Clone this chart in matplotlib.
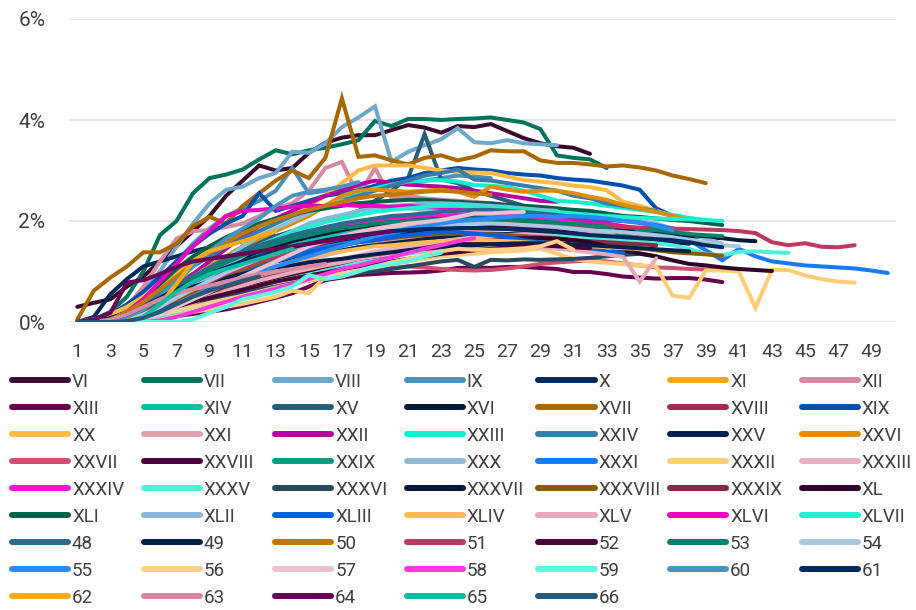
import matplotlib
matplotlib.use("Agg")
import matplotlib.pyplot as plt
from matplotlib.lines import Line2D

plt.rcParams['font.family'] = ['Roboto', 'DejaVu Sans']

# vintage curves, value in % for each period 1..n
names = ["VI", "VII", "VIII", "IX", "X", "XI", "XII", "XIII", "XIV", "XV", "XVI", "XVII",
         "XVIII", "XIX", "XX", "XXI", "XXII", "XXIII", "XXIV", "XXV", "XXVI", "XXVII",
         "XXVIII", "XXIX", "XXX", "XXXI", "XXXII", "XXXIII", "XXXIV", "XXXV", "XXXVI",
         "XXXVII", "XXXVIII", "XXXIX", "XL", "XLI", "XLII", "XLIII", "XLIV", "XLV", "XLVI",
         "XLVII", "48", "49", "50", "51", "52", "53", "54", "55", "56", "57", "58", "59",
         "60", "61", "62", "63", "64", "65", "66"]

colors = ["#3b0a2f", "#00735c", "#6fa8cc", "#4a90bb", "#002a5c", "#ffa812", "#d98aa3",
          "#6a0050", "#00c4a3", "#265e7a", "#001a3a", "#a86800", "#a82a50", "#0050b0",
          "#ffbb44", "#e0a0b0", "#b800a0", "#10f0d0", "#3a7ca8", "#002050", "#e08c00",
          "#d05070", "#4a0040", "#0a9a80", "#90bcd8", "#1a7aff", "#ffcc77", "#e8b0c0",
          "#ff10d8", "#50f0d8", "#264a60", "#00183a", "#8a5a00", "#8a2848", "#300028",
          "#00604a", "#88b8d8", "#0060e0", "#ffbb55", "#e8aab8", "#f000c0", "#20f0d0",
          "#2e6a90", "#00204a", "#c07800", "#c03860", "#4a0038", "#00856a", "#a8c8e0",
          "#2a8cff", "#ffd088", "#ecc0cc", "#ff38e0", "#60f8e0", "#4a94c0", "#002a60",
          "#ffaa10", "#d888a0", "#6a0058", "#00c0a0", "#265a78"]

s_VI = [0.3, 0.38, 0.45, 0.7, 0.9, 1.2, 1.5, 1.8, 2.1, 2.5, 2.8, 3.1, 3.0, 3.05, 3.35, 3.55, 3.65, 3.7, 3.7, 3.8,
        3.9, 3.85, 3.75, 3.88, 3.86, 3.92, 3.78, 3.64, 3.54, 3.48, 3.45, 3.33]
s_VII = [0, 0.05, 0.2, 0.5, 1.0, 1.72, 2.0, 2.55, 2.85, 2.92, 3.02, 3.22, 3.4, 3.32, 3.4, 3.45, 3.52, 3.6, 3.98, 3.88,
         4.02, 4.02, 4.0, 4.02, 4.03, 4.05, 4.0, 3.95, 3.82, 3.3, 3.25, 3.22, 3.05]
s_VIII = [0, 0, 0.1, 0.3, 0.6, 1.0, 1.5, 1.95, 2.35, 2.62, 2.68, 2.85, 2.95, 3.37, 3.35, 3.54, 3.86, 4.05, 4.27, 3.17,
          3.37, 3.5, 3.62, 3.84, 3.56, 3.54, 3.6, 3.54, 3.52, 3.5]
s_IX = [0, 0, 0.05, 0.2, 0.45, 0.8, 1.2, 1.55, 1.85, 2.1, 2.25, 2.4, 2.6, 3.05, 2.55, 2.6, 2.62, 2.65, 2.68, 2.72,
        2.75, 2.8, 2.85, 2.9, 2.88, 2.85]
s_X = [0, 0.1, 0.55, 0.85, 1.1, 1.2, 1.3, 1.4, 1.48, 1.55, 1.6, 1.65, 1.7, 1.75, 1.8, 1.85, 1.9, 1.92, 1.95, 1.98,
       2.0, 2.0, 2.02, 2.0, 1.98, 1.96, 1.95, 1.92, 1.9, 1.88, 1.85, 1.82, 1.8, 1.78]
s_XI = [0, 0, 0, 0.05, 0.15, 0.3, 0.5, 0.7, 0.9, 1.05, 1.2, 1.32, 1.42, 1.5, 1.58, 1.65, 1.72, 1.78, 1.85, 1.9,
        1.95, 2.0, 2.05, 2.08, 2.1, 2.12, 2.15, 2.12, 2.1, 2.08]
s_XII = [0, 0.05, 0.15, 0.3, 0.7, 1.2, 1.65, 1.8, 1.82, 1.88, 1.95, 2.1, 2.25, 2.35, 2.6, 3.05, 3.17, 2.5, 3.05, 2.45,
         2.5, 2.45, 2.42, 2.4, 2.38, 2.35, 2.3]
s_XIII = [0, 0, 0, 0.02, 0.05, 0.08, 0.12, 0.16, 0.2, 0.25, 0.32, 0.4, 0.48, 0.57, 0.7, 0.83, 0.88, 0.93, 0.95, 0.97,
          0.98, 0.99, 1.02, 1.07, 1.08, 1.07, 1.09, 1.09, 1.07, 1.05, 0.99, 0.99, 0.95, 0.9, 0.88, 0.86, 0.87, 0.87,
          0.84, 0.79]
s_XIV = [0, 0, 0, 0.05, 0.25, 0.55, 0.8, 0.95, 1.05, 1.15, 1.25, 1.35, 1.45, 1.52, 1.6, 1.68, 1.75, 1.8, 1.85, 1.9,
         1.92, 1.95, 1.98, 2.0, 2.02, 2.02, 2.0, 1.98, 1.96, 1.95, 1.92, 1.9, 1.88, 1.85, 1.82, 1.8, 1.78, 1.75]
s_XV = [0, 0, 0.05, 0.15, 0.3, 0.5, 0.7, 0.9, 1.1, 1.3, 1.45, 1.6, 1.7, 1.8, 1.9, 2.0, 2.1, 2.2, 2.4, 2.6,
        2.85, 3.72, 2.82, 2.75, 2.6, 2.5, 2.4, 2.3, 2.2, 2.1, 2.0, 1.9, 1.85]
s_XVI = [0, 0, 0.05, 0.15, 0.3, 0.45, 0.6, 0.75, 0.9, 1.02, 1.12, 1.22, 1.3, 1.38, 1.45, 1.52, 1.58, 1.62, 1.68, 1.72,
         1.76, 1.8, 1.82, 1.85, 1.86, 1.88, 1.88, 1.88, 1.87, 1.86, 1.85, 1.84, 1.82, 1.8, 1.78, 1.75, 1.72, 1.7,
         1.68, 1.66, 1.62, 1.6]
s_XVII = [0.05, 0.62, 0.88, 1.1, 1.38, 1.38, 1.55, 1.9, 2.08, 1.95, 2.3, 2.55, 2.8, 3.0, 2.85, 3.25, 4.43, 3.27, 3.3,
          3.2, 3.12, 3.25, 3.3, 3.2, 3.27, 3.4, 3.38, 3.38, 3.2, 3.15, 3.15, 3.12, 3.08, 3.1, 3.06, 3.0, 2.9, 2.83,
          2.75]
s_XVIII = [0, 0, 0.02, 0.06, 0.14, 0.24, 0.36, 0.48, 0.6, 0.7, 0.8, 0.88, 0.96, 1.02, 1.1, 1.16, 1.22, 1.3, 1.35,
           1.42, 1.48, 1.52, 1.58, 1.62, 1.66, 1.7, 1.74, 1.76, 1.8, 1.82, 1.82, 1.8, 1.78, 1.76, 1.74, 1.72, 1.7, 1.68]
s_XIX = [0, 0.05, 0.15, 0.35, 0.6, 0.9, 1.2, 1.5, 1.75, 1.95, 2.1, 2.55, 2.2, 2.3, 2.4, 2.5, 2.55, 2.6, 2.7, 2.8,
         2.85, 2.95, 3.0, 3.05, 3.02, 3.0, 2.95, 2.92, 2.9, 2.85, 2.82, 2.8, 2.75, 2.7, 2.62, 2.25, 2.1, 2.0]
s_XX = [0, 0.05, 0.15, 0.3, 0.5, 0.75, 1.0, 1.2, 1.4, 1.55, 1.7, 1.8, 1.95, 2.1, 2.3, 2.5, 2.75, 3.0, 3.1, 3.1,
        3.1, 3.05, 3.0, 2.97, 2.96, 2.95, 2.88, 2.81, 2.78, 2.75, 2.7, 2.67, 2.61, 2.38, 2.3, 2.2, 2.1, 2.05]
s_XXI = [0, 0, 0, 0.02, 0.1, 0.25, 0.4, 0.55, 0.72, 0.85, 1.02, 0.93, 1.1, 1.17, 1.25, 1.32, 1.4, 1.48, 1.55, 1.6,
         1.65, 1.7, 1.74, 1.78, 1.8, 1.82, 1.84, 1.85, 1.85, 1.84, 1.82, 1.8, 1.78, 1.76]
s_XXII = [0, 0, 0.02, 0.1, 0.25, 0.45, 0.7, 0.95, 1.2, 1.45, 1.7, 1.9, 2.05, 2.2, 2.35, 2.5, 2.6, 2.72, 2.8, 2.75,
          2.72, 2.7, 2.68, 2.65, 2.6, 2.55, 2.5, 2.45, 2.4, 2.38]
s_XXIII = [0, 0, 0.05, 0.15, 0.3, 0.5, 0.7, 0.9, 1.1, 1.3, 1.5, 1.7, 1.85, 2.0, 2.15, 2.3, 2.45, 2.55, 2.65, 2.72,
           2.78, 2.8, 2.81, 2.78, 2.71, 2.7, 2.67, 2.6, 2.5, 2.4, 2.38, 2.35, 2.3, 2.26, 2.22, 2.18, 2.12, 2.06, 2.02]
s_XXIV = [0, 0, 0.05, 0.15, 0.35, 0.6, 0.85, 1.1, 1.3, 1.5, 1.65, 1.8, 1.95, 2.1, 2.2, 2.3, 2.4, 2.5, 2.6, 2.7,
          2.8, 2.9, 2.95, 3.02, 2.82, 2.8, 2.75, 2.7, 2.65, 2.6, 2.5, 2.45, 2.35, 2.3, 2.25, 2.2]
s_XXV = [0, 0, 0.05, 0.15, 0.3, 0.45, 0.6, 0.72, 0.85, 0.95, 1.05, 1.12, 1.2, 1.26, 1.32, 1.38, 1.42, 1.48, 1.52,
         1.56, 1.6, 1.64, 1.68, 1.7, 1.72, 1.74, 1.74, 1.75, 1.74, 1.73, 1.72, 1.7, 1.68, 1.66, 1.64, 1.6, 1.58, 1.55]
s_XXVI = [0, 0, 0.05, 0.15, 0.3, 0.5, 0.7, 0.9, 1.1, 1.3, 1.5, 1.65, 1.8, 1.95, 2.1, 2.3, 2.5, 2.6, 2.62, 2.6,
          2.58, 2.6, 2.62, 2.58, 2.48, 2.68, 2.62, 2.58, 2.6, 2.6, 2.55, 2.48, 2.42, 2.32, 2.25, 2.18, 2.1, 2.02, 1.98]
s_XXVII = [0, 0, 0, 0.02, 0.08, 0.15, 0.22, 0.3, 0.38, 0.46, 0.54, 0.62, 0.7, 0.77, 0.84, 0.9, 0.96, 1.0, 1.04, 1.07,
           1.1, 1.08, 1.05, 1.03, 1.02, 1.03, 1.06, 1.1, 1.15, 1.18, 1.2, 1.22, 1.2, 1.16, 1.12, 1.08, 1.07, 1.05,
           1.04, 1.03]
s_XXVIII = [0, 0, 0.03, 0.12, 0.25, 0.4, 0.55, 0.7, 0.85, 1.0, 1.12, 1.22, 1.32, 1.42, 1.5, 1.58, 1.65, 1.72, 1.78,
            1.84, 1.88, 1.92, 1.94, 1.96, 1.96, 1.95, 1.92, 1.88, 1.85, 1.8, 1.76, 1.72, 1.68, 1.62, 1.58, 1.56]
s_XXIX = [0, 0, 0, 0.05, 0.2, 0.45, 0.7, 0.9, 1.05, 1.2, 1.32, 1.45, 1.55, 1.65, 1.75, 1.85, 1.92, 1.98, 2.02, 2.05,
          2.08, 2.1, 2.1, 2.12, 2.1, 2.08, 2.06, 2.05, 2.02, 2.0, 1.98, 1.95, 1.9, 1.86, 1.82, 1.8]
s_XXX = [0, 0, 0, 0.05, 0.15, 0.3, 0.5, 0.75, 1.0, 1.25, 1.5, 1.7, 1.85, 2.0, 2.15, 2.3, 2.4, 2.35, 2.3, 2.28,
         2.25, 2.22, 2.25, 2.28, 2.35, 2.3, 2.25, 2.2, 2.22, 2.25, 2.2, 2.15, 2.1, 2.05, 2.0, 1.95, 1.85, 1.75, 1.65,
         1.55]
s_XXXI = [0, 0, 0, 0.05, 0.15, 0.3, 0.45, 0.6, 0.75, 0.9, 1.05, 1.2, 1.3, 1.37, 1.43, 1.49, 1.55, 1.6, 1.68, 1.75,
          1.82, 1.88, 1.95, 2.05, 2.1, 2.1, 2.12, 2.16, 2.22, 2.2, 2.2, 2.15, 2.05, 2.0, 1.96, 1.92, 1.85, 1.62, 1.42,
          1.22, 1.45, 1.3, 1.2, 1.16, 1.12, 1.1, 1.08, 1.06, 1.02, 0.97]
s_XXXII = [0, 0, 0, 0.03, 0.06, 0.1, 0.15, 0.2, 0.25, 0.3, 0.36, 0.43, 0.5, 0.62, 0.57, 0.9, 0.98, 1.02, 1.08, 1.15,
           1.2, 1.25, 1.3, 1.33, 1.35, 1.38, 1.4, 1.42, 1.45, 1.35, 1.25, 1.2, 1.17, 1.15, 1.12, 1.1, 0.52, 0.48,
           1.02, 1.02, 1.0, 0.28, 1.03, 1.03, 0.92, 0.85, 0.8, 0.78]
s_XXXIII = [0, 0, 0, 0, 0.05, 0.15, 0.28, 0.42, 0.55, 0.65, 0.75, 0.85, 0.95, 1.02, 1.1, 1.18, 1.25, 1.32, 1.4, 1.45,
            1.5, 1.55, 1.6, 1.64, 1.68, 1.7, 1.72, 1.74, 1.75, 1.75, 1.74, 1.72, 1.7]
s_XXXIV = [0, 0, 0, 0.05, 0.2, 0.4, 0.6, 0.8, 1.0, 1.15, 1.3, 1.45, 1.55, 1.65, 1.75, 1.82, 1.9, 1.95, 2.0, 2.02,
           2.05, 2.08, 2.1, 2.12, 2.15, 2.15, 2.12, 2.1, 2.08, 2.05, 2.02, 2.0]
s_XXXV = [0, 0, 0, 0, 0.05, 0.12, 0.2, 0.3, 0.4, 0.5, 0.6, 0.7, 0.8, 0.88, 0.95, 1.02, 1.1, 1.18, 1.25, 1.3,
          1.35, 1.4, 1.45, 1.5, 1.55, 1.58, 1.62, 1.65, 1.68, 1.7, 1.7, 1.68, 1.65, 1.62, 1.6, 1.56, 1.52, 1.45, 1.35,
          1.32, 1.39, 1.4, 1.38, 1.37]
s_XXXVI = [0, 0, 0, 0.05, 0.1, 0.18, 0.26, 0.34, 0.42, 0.5, 0.57, 0.64, 0.7, 0.76, 0.82, 0.88, 0.92, 0.97, 1.0, 1.05,
           1.1, 1.15, 1.2, 1.23, 1.09, 1.23, 1.22, 1.24, 1.23, 1.24, 1.25, 1.27, 1.3, 1.33, 1.35, 1.3]
s_XXXVII = [0, 0, 0.05, 0.15, 0.3, 0.5, 0.7, 0.88, 1.02, 1.15, 1.28, 1.4, 1.5, 1.6, 1.68, 1.75, 1.82, 1.88, 1.92,
            1.96, 2.0, 2.02, 2.04, 2.05, 2.05, 2.04, 2.02, 2.0, 1.98, 1.95, 1.92, 1.9, 1.88, 1.85, 1.82, 1.78, 1.75,
            1.72, 1.7, 1.68]
s_XXXVIII = [0, 0, 0, 0.05, 0.15, 0.3, 0.45, 0.6, 0.75, 0.9, 1.02, 1.12, 1.22, 1.3, 1.38, 1.45, 1.52, 1.58, 1.62,
             1.66, 1.7, 1.72, 1.74, 1.75, 1.75, 1.74, 1.72, 1.7, 1.68, 1.66, 1.62, 1.58, 1.55, 1.5, 1.46, 1.42, 1.38,
             1.36, 1.34, 1.31]
s_XXXIX = [0, 0, 0.02, 0.08, 0.16, 0.26, 0.36, 0.46, 0.56, 0.66, 0.75, 0.84, 0.92, 1.0, 1.08, 1.15, 1.2, 1.26, 1.3,
           1.36, 1.4, 1.44, 1.48, 1.52, 1.55, 1.6, 1.62, 1.64, 1.65, 1.64, 1.62, 1.6, 1.58, 1.56, 1.54, 1.52]
s_XL = [0, 0, 0, 0.05, 0.12, 0.22, 0.32, 0.42, 0.52, 0.62, 0.72, 0.8, 0.88, 0.95, 1.02, 1.1, 1.17, 1.25, 1.3, 1.35,
        1.4, 1.45, 1.5, 1.55, 1.6, 1.62, 1.65, 1.66, 1.66, 1.65, 1.62, 1.58, 1.5, 1.42, 1.36, 1.3, 1.22, 1.15, 1.12,
        1.08, 1.05, 1.03, 1.01]
s_XLI = [0, 0, 0.05, 0.2, 0.45, 0.75, 1.05, 1.3, 1.5, 1.68, 1.82, 1.95, 2.05, 2.12, 2.2, 2.25, 2.3, 2.35, 2.38, 2.4,
         2.42, 2.42, 2.4, 2.38, 2.36, 2.35, 2.32, 2.3, 2.28, 2.25, 2.22, 2.2, 2.15, 2.1, 2.08, 2.05, 2.02, 2.0, 1.96,
         1.92]
s_XLII = [0, 0, 0, 0.05, 0.15, 0.3, 0.5, 0.7, 0.9, 1.1, 1.3, 1.5, 1.65, 1.8, 1.95, 2.05, 2.12, 2.2, 2.25, 2.3,
          2.32, 2.35, 2.35, 2.34, 2.32, 2.3, 2.28, 2.25, 2.22, 2.2]
s_XLIII = [0, 0, 0, 0.05, 0.12, 0.22, 0.35, 0.5, 0.65, 0.8, 0.95, 1.08, 1.2, 1.3, 1.38, 1.45, 1.52, 1.58, 1.62, 1.68,
           1.72, 1.76, 1.78, 1.78, 1.75, 1.72, 1.68, 1.62, 1.58, 1.55, 1.5, 1.45, 1.4, 1.37]
s_XLIV = [0, 0, 0, 0.02, 0.08, 0.18, 0.3, 0.45, 0.6, 0.75, 0.88, 1.0, 1.1, 1.2, 1.28, 1.35, 1.4, 1.45, 1.5, 1.52,
          1.55, 1.58, 1.6, 1.62, 1.62, 1.62, 1.6, 1.58, 1.56, 1.54, 1.52, 1.5, 1.48, 1.46, 1.45, 1.44]
s_XLV = [0, 0, 0, 0.02, 0.08, 0.16, 0.26, 0.38, 0.5, 0.62, 0.72, 0.82, 0.9, 0.98, 1.05, 1.12, 1.18, 1.25, 1.3, 1.35,
         1.4, 1.42, 1.45, 1.48, 1.5, 1.52, 1.52, 1.5, 1.48, 1.45, 1.42, 1.38, 1.34, 1.29, 0.8, 1.26]
s_XLVI = [0, 0, 0.05, 0.2, 0.45, 0.8, 1.15, 1.5, 1.8, 2.1, 2.2, 2.22, 2.25, 2.28, 2.3, 2.3, 2.32, 2.3, 2.3, 2.28,
          2.3, 2.28, 2.26, 2.24, 2.22, 2.2, 2.18, 2.15, 2.12, 2.1, 2.05, 2.0, 1.95, 1.9, 1.85]
s_XLVII = [0, 0, 0.02, 0.1, 0.25, 0.45, 0.65, 0.85, 1.05, 1.22, 1.38, 1.52, 1.65, 1.78, 1.88, 1.98, 2.05, 2.12, 2.18,
           2.22, 2.25, 2.28, 2.3, 2.3, 2.28, 2.26, 2.25, 2.22, 2.2, 2.18, 2.15, 2.12, 2.1, 2.08, 2.06, 2.05, 2.04,
           2.03, 2.02, 2.0]
s_48 = [0, 0, 0.05, 0.15, 0.3, 0.5, 0.7, 0.9, 1.08, 1.25, 1.4, 1.52, 1.62, 1.72, 1.8, 1.88, 1.95, 2.0, 2.05, 2.1,
        2.12, 2.15, 2.18, 2.2, 2.22, 2.22, 2.2, 2.18, 2.15, 2.12, 2.08, 2.05, 2.02, 2.0]
s_49 = [0, 0.02, 0.08, 0.18, 0.3, 0.45, 0.58, 0.7, 0.8, 0.88, 0.95, 1.02, 1.08, 1.12, 1.18, 1.22, 1.25, 1.3, 1.34,
        1.38, 1.42, 1.45, 1.48, 1.5, 1.52, 1.54, 1.55, 1.56, 1.56, 1.55, 1.54, 1.52, 1.5, 1.48, 1.46, 1.44, 1.42, 1.4]
s_50 = [0, 0, 0.05, 0.2, 0.4, 0.65, 0.9, 1.15, 1.38, 1.58, 1.75, 1.9, 2.02, 2.12, 2.22, 2.3, 2.38, 2.45, 2.5, 2.52,
        2.55, 2.58, 2.6, 2.58, 2.55, 2.52]
s_51 = [0, 0, 0.02, 0.1, 0.2, 0.35, 0.5, 0.65, 0.8, 0.95, 1.08, 1.2, 1.3, 1.4, 1.5, 1.58, 1.65, 1.72, 1.78, 1.85,
        1.9, 1.95, 1.98, 2.0, 2.02, 2.0, 1.98, 1.95, 1.95, 1.93, 1.92, 1.9, 1.9, 1.88, 1.87, 1.86, 1.85, 1.84, 1.83,
        1.82, 1.8, 1.76, 1.58, 1.52, 1.56, 1.49, 1.48, 1.52]
s_52 = [0, 0, 0.02, 0.06, 0.12, 0.2, 0.3, 0.4, 0.48, 0.56, 0.64, 0.72, 0.8, 0.86, 0.92, 0.98, 1.05, 1.1, 1.15, 1.2,
        1.25, 1.3, 1.35, 1.38, 1.42, 1.45, 1.48, 1.5, 1.52, 1.5, 1.48, 1.46]
s_53 = [0, 0, 0.02, 0.1, 0.25, 0.45, 0.65, 0.85, 1.02, 1.18, 1.32, 1.45, 1.55, 1.65, 1.72, 1.8, 1.86, 1.9, 1.95, 1.98,
        2.0, 2.02, 2.04, 2.05, 2.05, 2.04, 2.02, 2.0, 1.98, 1.96, 1.94, 1.92, 1.88, 1.7, 1.8, 1.82, 1.78, 1.74, 1.72,
        1.7]
s_54 = [0, 0, 0, 0.05, 0.15, 0.3, 0.48, 0.65, 0.82, 0.98, 1.12, 1.25, 1.36, 1.46, 1.55, 1.62, 1.68, 1.74, 1.8, 1.85,
        1.88, 1.9, 1.92, 1.94, 1.95, 1.95, 1.94, 1.92, 1.9, 1.88, 1.85, 1.82, 1.8, 1.78, 1.75, 1.72, 1.68, 1.62, 1.58,
        1.52, 1.5]
s_55 = [0, 0, 0, 0.02, 0.08, 0.18, 0.3, 0.45, 0.6, 0.75, 0.9, 1.0, 1.1, 1.2, 1.3, 1.4, 1.5, 1.6, 1.7, 1.78,
        1.85, 1.9, 1.95, 2.0, 2.02, 2.05, 2.08, 2.1, 2.1, 2.08, 2.1, 2.08, 2.05, 2.0, 1.98, 1.9, 1.82]
s_56 = [0, 0, 0, 0.03, 0.08, 0.15, 0.22, 0.3, 0.38, 0.45, 0.52, 0.6, 0.68, 0.75, 0.82, 0.88, 0.95, 1.02, 1.1, 1.18,
        1.25, 1.32, 1.4, 1.45, 1.43, 1.43, 1.44, 1.46, 1.5, 1.6, 1.43]
s_57 = [0, 0, 0, 0, 0.05, 0.15, 0.3, 0.45, 0.6, 0.75, 0.9, 1.05, 1.2, 1.35, 1.5, 1.6, 1.7, 1.78, 1.85, 1.9,
        1.95, 1.98, 2.02, 2.08, 2.15, 2.15, 2.17, 2.18]
s_58 = [0, 0, 0, 0, 0, 0.03, 0.1, 0.2, 0.3, 0.4, 0.5, 0.58, 0.66, 0.75, 0.85, 0.95, 1.05, 1.12, 1.2, 1.28,
        1.37, 1.45, 1.52, 1.6, 1.66]
s_59 = [0, 0, 0, 0, 0, 0, 0, 0.05, 0.18, 0.3, 0.45, 0.52, 0.6, 0.7, 0.93, 0.85, 0.9, 1.0, 1.1, 1.15,
        1.2, 1.3, 1.37]
s_60 = [0, 0, 0, 0.1, 0.25, 0.5, 0.8, 1.1, 1.4, 1.65, 1.85, 2.05, 2.3, 2.5, 2.58, 2.62, 2.68, 2.77]
s_61 = [0, 0, 0.05, 0.15, 0.3, 0.48, 0.65, 0.8, 0.95, 1.08, 1.2, 1.3, 1.4, 1.48, 1.55, 1.62, 1.68, 1.72, 1.76, 1.8,
        1.82, 1.84, 1.85, 1.86, 1.86, 1.85, 1.84, 1.82, 1.8, 1.78, 1.75, 1.72, 1.7, 1.68, 1.66, 1.64, 1.62, 1.58,
        1.52, 1.48]
s_62 = [0, 0, 0, 0.02, 0.1, 0.35, 0.75, 1.2, 1.4, 1.5, 1.6, 1.7, 1.8]
s_63 = [0, 0, 0.05, 0.15, 0.3, 0.45, 0.58, 0.65, 0.72, 0.8, 0.88, 0.95, 1.0, 1.05, 1.1, 1.15]
s_64 = [0, 0.05, 0.18, 0.78, 0.83, 0.95, 1.09, 1.2, 1.25, 1.3, 1.35, 1.4, 1.45, 1.5, 1.55, 1.6, 1.65, 1.7, 1.75, 1.8]
s_65 = [0, 0, 0, 0, 0.1, 0.35, 0.6, 0.8, 0.95, 1.05, 1.15, 1.25, 1.35, 1.45]
s_66 = [0, 0, 0, 0.02, 0.08, 0.2, 0.35, 0.5, 0.62, 0.72, 0.82, 0.9]

series = [s_VI, s_VII, s_VIII, s_IX, s_X, s_XI, s_XII, s_XIII, s_XIV, s_XV, s_XVI, s_XVII,
          s_XVIII, s_XIX, s_XX, s_XXI, s_XXII, s_XXIII, s_XXIV, s_XXV, s_XXVI, s_XXVII,
          s_XXVIII, s_XXIX, s_XXX, s_XXXI, s_XXXII, s_XXXIII, s_XXXIV, s_XXXV, s_XXXVI,
          s_XXXVII, s_XXXVIII, s_XXXIX, s_XL, s_XLI, s_XLII, s_XLIII, s_XLIV, s_XLV, s_XLVI,
          s_XLVII, s_48, s_49, s_50, s_51, s_52, s_53, s_54, s_55, s_56, s_57, s_58, s_59,
          s_60, s_61, s_62, s_63, s_64, s_65, s_66]

periods = list(range(1, 51))
yticks = [0, 2, 4, 6]

W, H = 916, 610
fig = plt.figure(figsize=(W / 100, H / 100), dpi=100)
ax = fig.add_axes([69 / W, 1 - 322 / H, (896 - 69) / W, (322 - 19) / H])

for vals, col in zip(series, colors):
    ax.plot(periods[:len(vals)], vals, color=col, lw=2.9, solid_capstyle='round',
            solid_joinstyle='miter')

ax.set_xlim(0.5, 50.5)
ax.set_ylim(0, 6)
ax.set_yticks(yticks)
ax.set_yticklabels([f"{v}%" for v in yticks])
ax.set_xticks(periods[::2])
ax.set_xticklabels([str(p) for p in periods[::2]])
ax.grid(axis='y', color='#e6e6e6', lw=1.5)
ax.set_axisbelow(True)
for sp in ax.spines.values():
    sp.set_visible(False)
ax.tick_params(axis='y', length=0, pad=17, labelsize=15, labelcolor='#404040')
ax.tick_params(axis='x', length=0, pad=15, labelsize=14, labelcolor='#404040')

# legend: 7 even columns, one legend per column
ncol = 7
for c in range(ncol):
    idx = list(range(c, len(names), ncol))
    handles = [Line2D([], [], color=colors[i], lw=4.3, solid_capstyle='round') for i in idx]
    leg = fig.legend(handles, [names[i] for i in idx], loc='upper left',
                     bbox_to_anchor=((12 + c * 131.6) / W, 1 - 373 / H),
                     frameon=False, fontsize=13.5, handlelength=3.0, handletextpad=0.2,
                     labelspacing=0.48, borderpad=0, borderaxespad=0)
    for t in leg.get_texts():
        t.set_color('#404040')

fig.savefig("out.png", dpi=100)
